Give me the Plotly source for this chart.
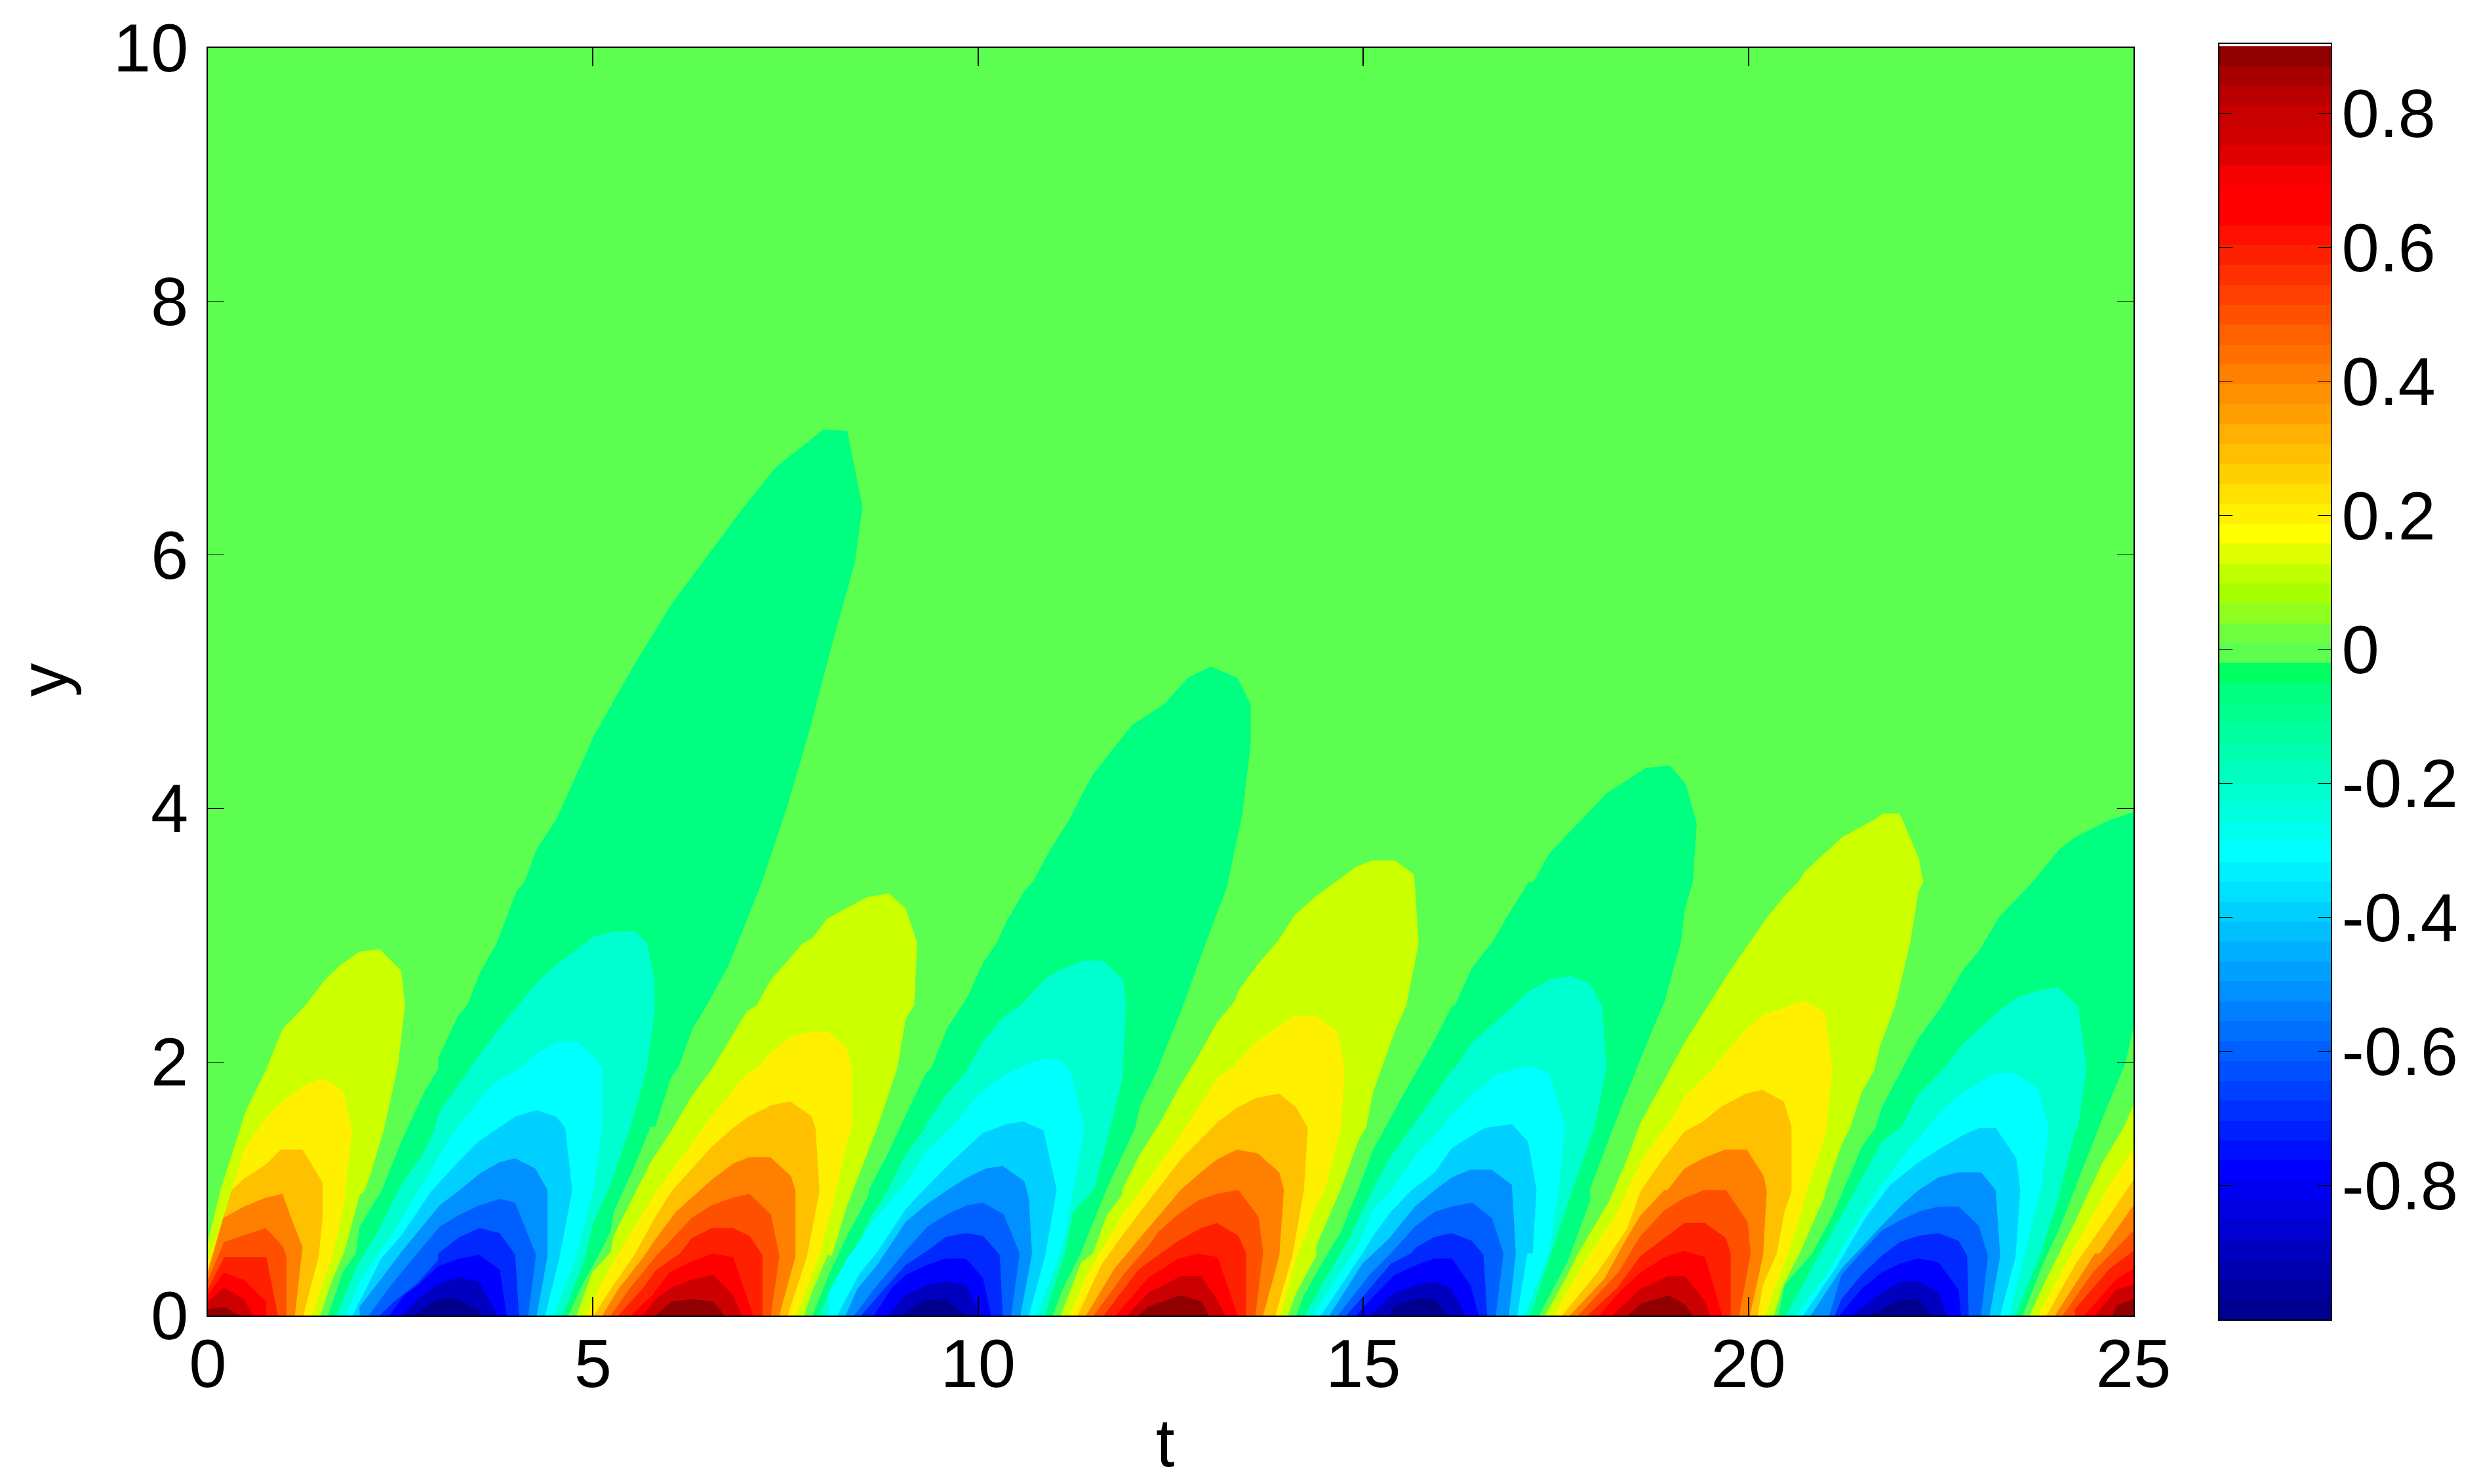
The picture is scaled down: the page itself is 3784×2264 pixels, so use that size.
import plotly.graph_objects as go

# Contour bands: (t, y) outlines of each filled level, one outline per lobe.
BG_COLOR = "#5cff50"
BG = [[(0,0),(0,10),(25,10),(25,0)]]
P_COLORS = ["#ccff00", "#fff000", "#ffc000", "#ff8000", "#ff5000", "#ff2000", "#ff0000", "#cc0000", "#900000"]
N_COLORS = ["#00ff80", "#00ffd0", "#00ffff", "#00d0ff", "#0090ff", "#0060ff", "#0028ff", "#0000ff", "#0000c0", "#00008c"]

P1 = [
 [(0,0),(0,.58),(.16,.98),(.42,1.48),(.49,1.61),(.75,1.93),(.97,2.26),(1.27,2.45),(1.51,2.64),(1.73,2.77),(1.97,2.87),(2.23,2.89),(2.51,2.72),(2.56,2.45),(2.47,1.98),(2.29,1.48),(2.12,1.13),(2.03,.98),(1.97,.95),(1.77,.50),(1.60,.26),(1.46,0)],
 [(4.79,0),(4.99,.34),(5.23,.50),(5.27,.63),(5.51,.92),(5.75,1.21),(6.02,1.46),(6.28,1.73),(6.54,1.94),(7.0,2.40),(7.13,2.45),(7.30,2.64),(7.73,2.94),(7.84,2.97),(8.04,3.13),(8.56,3.30),(8.84,3.33),(9.06,3.21),(9.21,2.94),(9.17,2.45),(9.06,2.34),(8.95,1.95),(8.69,1.48),(8.47,1.13),(8.30,.87),(8.10,.47),(8.05,.48),(7.84,.18),(7.74,0)],
 [(11.07,0),(11.34,.42),(11.49,.49),(11.67,.79),(11.87,.95),(11.87,.99),(12.10,1.27),(12.36,1.52),(12.63,1.82),(12.89,2.08),(13.10,2.31),(13.32,2.47),(13.39,2.57),(13.63,2.77),(13.90,2.96),(14.10,3.15),(14.37,3.30),(14.91,3.54),(15.12,3.59),(15.41,3.59),(15.66,3.48),(15.72,2.94),(15.56,2.45),(15.41,2.24),(15.13,1.77),(15.04,1.49),(14.93,1.37),(14.71,1.0),(14.39,.55),(14.39,.47),(14.13,.18),(14.02,0)],
 [(17.36,0),(17.60,.26),(17.80,.50),(18.19,.90),(18.43,1.24),(18.60,1.52),(18.91,1.86),(19.17,2.15),(19.43,2.40),(19.73,2.69),(19.99,2.92),(20.23,3.13),(20.47,3.31),(20.65,3.42),(20.73,3.50),(21.21,3.77),(21.63,3.91),(21.75,3.96),(21.96,3.96),(22.0,3.91),(22.21,3.61),(22.27,3.42),(22.21,3.35),(22.10,2.94),(21.91,2.45),(21.71,2.13),(21.63,1.93),(21.47,1.76),(21.32,1.48),(21.21,1.35),(21.0,.98),(20.99,.94),(20.65,.47),(20.46,.25),(20.33,0)],
 [(23.65,0),(23.87,.29),(24.24,.74),(24.60,1.21),(24.87,1.48),(25,1.66),(25,0)],
]
P2 = [
 [(0,0),(0,.42),(.21,.78),(.47,1.31),(.75,1.56),(.97,1.69),(1.23,1.81),(1.49,1.87),(1.76,1.77),(1.87,1.46),(1.77,.90),(1.62,.47),(1.35,0)],
 [(4.90,0),(5.07,.21),(5.29,.45),(5.53,.69),(5.82,.98),(6.08,1.19),(6.54,1.57),(7.0,1.91),(7.13,1.95),(7.30,2.07),(7.54,2.19),(7.82,2.24),(8.05,2.24),(8.30,2.11),(8.36,1.95),(8.36,1.48),(8.30,1.37),(8.13,.92),(7.95,.50),(7.64,0)],
 [(11.18,0),(11.43,.34),(11.67,.58),(11.87,.79),(12.17,1.03),(12.65,1.45),(13.10,1.87),(13.32,1.97),(13.60,2.15),(14.10,2.36),(14.39,2.36),(14.66,2.24),(14.76,1.95),(14.71,1.48),(14.50,.98),(14.39,.87),(14.13,.45),(13.92,0)],
 [(17.47,0),(17.82,.37),(18.26,.77),(18.60,1.21),(18.91,1.48),(18.95,1.49),(19.17,1.73),(19.54,1.95),(19.91,2.22),(20.19,2.37),(20.47,2.43),(20.71,2.48),(20.99,2.40),(21.09,1.94),(21.0,1.42),(20.80,1.06),(20.54,.53),(20.34,.21),(20.22,0)],
 [(23.76,0),(24.24,.55),(24.69,1.03),(25,1.32),(25,0)],
]
P3 = [
 [(0,0),(0,.37),(.2,.77),(.31,.99),(.47,1.08),(.75,1.19),(.95,1.31),(1.23,1.31),(1.49,1.05),(1.49,.77),(1.44,.47),(1.24,0)],
 [(5.01,0),(5.23,.21),(5.53,.47),(5.82,.79),(6.02,.98),(6.54,1.33),(6.82,1.48),(7.02,1.57),(7.32,1.66),(7.56,1.69),(7.84,1.57),(7.89,1.48),(7.94,.98),(7.78,.47),(7.53,0)],
 [(11.29,0),(11.60,.40),(11.87,.63),(12.17,.87),(12.63,1.23),(13.10,1.52),(13.36,1.64),(13.63,1.72),(13.91,1.75),(14.13,1.64),(14.28,1.48),(14.23,.99),(14.08,.47),(13.86,0)],
 [(17.58,0),(18.04,.34),(18.43,.69),(18.60,.98),(18.86,1.21),(19.17,1.45),(19.41,1.53),(19.65,1.65),(19.97,1.75),(20.18,1.78),(20.46,1.69),(20.56,1.49),(20.56,.98),(20.47,.82),(20.37,.49),(20.19,.24),(20.12,0)],
 [(23.87,0),(24.24,.40),(24.69,.79),(25,1.07),(25,0)],
]
P4 = [
 [(0,0),(0,.34),(.2,.77),(.47,.86),(.75,.93),(.97,.96),(1.10,.74),(1.23,.54),(1.13,0)],
 [(5.12,0),(5.33,.21),(5.64,.45),(5.82,.61),(6.08,.82),(6.54,1.07),(6.82,1.20),(7.03,1.25),(7.30,1.25),(7.57,1.10),(7.63,.98),(7.63,.47),(7.42,0)],
 [(11.40,0),(11.77,.37),(12.07,.59),(12.63,.99),(12.89,1.13),(13.10,1.23),(13.36,1.31),(13.63,1.28),(13.91,1.13),(13.97,.99),(13.91,.47),(13.70,0)],
 [(17.68,0),(18.13,.29),(18.43,.62),(18.60,.79),(18.91,.99),(18.95,.99),(19.17,1.16),(19.41,1.24),(19.70,1.31),(19.98,1.31),(20.2,1.10),(20.24,.98),(20.19,.47),(20.02,0)],
 [(23.98,0),(24.50,.49),(24.56,.49),(25,.87),(25,0)],
]
P5 = [
 [(0,0),(0,.28),(.21,.58),(.75,.69),(.97,.55),(1.02,.47),(1.02,0)],
 [(5.23,0),(5.47,.21),(5.82,.47),(6.28,.77),(6.54,.87),(6.82,.93),(7.03,.96),(7.31,.80),(7.42,.47),(7.31,0)],
 [(11.50,0),(11.91,.34),(12.21,.55),(12.34,.66),(12.60,.80),(12.86,.91),(13.10,.96),(13.38,.99),(13.64,.78),(13.70,.50),(13.6,0)],
 [(17.79,0),(18.31,.34),(18.60,.63),(18.91,.83),(19.17,.93),(19.43,.99),(19.71,.99),(19.99,.74),(20.03,.49),(19.88,0)],
 [(24.08,0),(24.47,.34),(25,.67),(25,0)],
]
P6 = [
 [(0,0),(0,.21),(.21,.46),(.76,.46),(.91,0)],
 [(5.33,0),(5.64,.21),(5.82,.36),(6.13,.49),(6.28,.61),(6.54,.69),(6.82,.69),(7.03,.63),(7.2,.48),(7.2,0)],
 [(11.63,0),(12.08,.36),(12.21,.42),(12.60,.59),(12.89,.69),(13.10,.73),(13.38,.63),(13.48,.49),(13.48,0)],
 [(17.91,0),(18.30,.22),(18.60,.47),(18.91,.61),(19.17,.73),(19.44,.73),(19.71,.61),(19.77,.49),(19.77,0)],
 [(24.24,0),(24.24,.05),(24.69,.37),(25,.51),(25,0)],
]
P7 = [
 [(0,0),(0,.16),(.21,.34),(.47,.28),(.76,.11),(.76,0)],
 [(5.49,0),(5.77,.16),(5.99,.34),(6.26,.42),(6.56,.49),(6.82,.46),(7.08,0)],
 [(11.78,0),(12.0,.15),(12.21,.30),(12.60,.45),(12.86,.49),(13.11,.46),(13.37,0)],
 [(18.06,0),(18.35,.2),(18.60,.34),(18.91,.46),(19.17,.51),(19.44,.46),(19.66,0)],
 [(24.36,0),(24.78,.29),(25,.37),(25,0)],
]
P8 = [
 [(0,0),(0,.11),(.21,.22),(.47,.13),(.58,0)],
 [(5.64,0),(5.82,.13),(6.02,.22),(6.26,.28),(6.56,.32),(6.82,.16),(6.93,0)],
 [(11.93,0),(12.21,.18),(12.63,.31),(12.90,.31),(13.10,.13),(13.21,0)],
 [(18.23,0),(18.60,.21),(18.95,.31),(19.18,.31),(19.44,.11),(19.50,0)],
 [(24.50,0),(24.78,.21),(25,.24),(25,0)],
]
P9 = [
 [(0,0),(0,.05),(.21,.07),(.42,0)],
 [(5.81,0),(6.02,.11),(6.28,.13),(6.56,.11),(6.71,0)],
 [(12.08,0),(12.21,.07),(12.63,.16),(12.90,.11),(13.0,0)],
 [(18.43,0),(18.60,.09),(18.96,.16),(19.17,.09),(19.28,0)],
 [(24.73,0),(24.78,.08),(25,.13),(25,0)],
]

N1 = [
 [(1.56,0),(1.75,.34),(1.92,.49),(1.97,.70),(2.25,.98),(2.51,1.37),(2.79,1.74),(2.99,1.95),(2.99,2.03),(3.25,2.37),(3.37,2.45),(3.53,2.70),(3.75,2.94),(3.88,3.15),(4.01,3.35),(4.11,3.42),(4.27,3.68),(4.52,3.91),(5.01,4.57),(5.53,5.13),(6.04,5.63),(6.96,6.38),(7.37,6.69),(7.99,6.99),(8.30,6.98),(8.50,6.38),(8.40,5.94),(8.09,5.26),(7.79,4.57),(7.52,4.01),(7.17,3.38),(6.76,2.76),(6.5,2.47),(6.29,2.26),(6.12,1.97),(6.01,1.87),(5.81,1.49),(5.75,1.49),(5.49,1.11),(5.27,.82),(5.23,.66),(5.07,.47),(4.86,.24),(4.68,0)],
 [(7.85,0),(8.06,.32),(8.30,.63),(8.58,.95),(8.58,.99),(8.82,1.27),(9.06,1.58),(9.32,1.91),(9.39,1.95),(9.60,2.27),(9.86,2.51),(10.06,2.78),(10.24,2.94),(10.37,3.11),(10.60,3.35),(10.71,3.42),(10.93,3.67),(11.18,3.91),(11.48,4.26),(12.0,4.66),(12.41,4.82),(12.72,5.03),(13.02,5.12),(13.37,5.03),(13.54,4.82),(13.54,4.51),(13.43,3.95),(13.23,3.38),(12.92,2.88),(12.64,2.41),(12.36,1.99),(12.34,1.95),(12.10,1.65),(12.04,1.48),(11.67,1.0),(11.37,.55),(11.34,.50),(11.10,.21),(10.97,0)],
 [(14.13,0),(14.23,.16),(14.45,.40),(14.71,.66),(14.93,.99),(15.13,1.31),(15.47,1.69),(15.93,2.18),(16.15,2.44),(16.19,2.45),(16.41,2.74),(16.69,2.96),(16.89,3.17),(17.15,3.42),(17.21,3.42),(17.41,3.64),(17.67,3.81),(17.83,3.91),(18.16,4.12),(18.67,4.32),(18.98,4.34),(19.19,4.19),(19.33,3.88),(19.28,3.42),(19.17,3.19),(19.13,2.96),(18.91,2.47),(18.73,2.22),(18.36,1.66),(18.15,1.33),(17.94,.99),(17.95,.91),(17.65,.42),(17.28,0)],
 [(20.39,0),(20.47,.24),(20.73,.42),(20.83,.49),(21.10,.80),(21.47,1.33),(21.65,1.48),(21.73,1.64),(22.21,2.19),(22.51,2.44),(22.78,2.72),(23.01,2.89),(23.25,3.14),(23.69,3.42),(24.04,3.68),(24.23,3.77),(24.69,3.91),(25,3.97),(25,2.27),(24.89,1.98),(24.6,1.56),(24.34,1.16),(24.02,.66),(23.82,.40),(23.56,0)],
]
N2 = [
 [(1.67,0),(1.94,.40),(2.18,.63),(2.51,1.03),(2.79,1.27),(2.94,1.46),(3.0,1.60),(3.25,1.82),(3.53,2.06),(3.79,2.27),(4.03,2.45),(4.29,2.64),(4.53,2.77),(5.01,2.99),(5.27,3.03),(5.54,3.03),(5.70,2.94),(5.80,2.64),(5.80,2.40),(5.70,1.95),(5.49,1.49),(5.20,.99),(5.01,.74),(4.88,.42),(4.60,0)],
 [(7.95,0),(8.08,.21),(8.37,.47),(8.6,.77),(8.84,1.0),(9.06,1.27),(9.32,1.48),(9.33,1.52),(9.60,1.75),(9.86,1.94),(10.06,2.16),(10.32,2.35),(10.56,2.45),(10.86,2.65),(11.08,2.73),(11.36,2.80),(11.62,2.80),(11.88,2.65),(11.92,2.45),(11.87,1.86),(11.65,1.32),(11.50,.99),(11.24,.82),(11.13,.50),(10.87,0)],
 [(14.24,0),(14.51,.29),(14.82,.61),(15.13,1.0),(15.34,1.24),(15.65,1.50),(15.93,1.74),(16.15,1.94),(16.19,1.95),(16.41,2.15),(16.89,2.41),(17.15,2.56),(17.43,2.65),(17.69,2.68),(17.94,2.62),(18.10,2.44),(18.16,1.95),(18.0,1.48),(17.71,.98),(17.43,.47),(17.17,0)],
 [(20.49,0),(20.82,.37),(21.21,.79),(21.5,1.11),(21.73,1.37),(21.99,1.49),(22.21,1.75),(22.54,1.95),(22.78,2.14),(23.23,2.39),(23.49,2.51),(23.76,2.56),(24.02,2.59),(24.28,2.44),(24.39,1.95),(24.28,1.49),(24.24,1.45),(24.02,.92),(23.80,.50),(23.47,0)],
]
N3 = [
 [(1.78,0),(1.99,.29),(2.38,.63),(2.81,1.06),(3.16,1.42),(3.51,1.69),(3.75,1.85),(4.03,1.94),(4.27,2.07),(4.55,2.16),(4.79,2.16),(5.01,2.04),(5.12,1.95),(5.12,1.50),(5.01,1.00),(4.79,.47),(4.49,0)],
 [(8.06,0),(8.06,.18),(8.30,.45),(8.67,.77),(9.06,1.04),(9.34,1.31),(9.60,1.45),(10.02,1.75),(10.32,1.89),(10.58,1.97),(10.86,2.03),(11.08,2.01),(11.19,1.94),(11.38,1.49),(11.25,1.03),(11.10,.55),(10.76,0)],
 [(14.34,0),(14.65,.29),(14.93,.55),(15.13,.84),(15.36,.99),(15.69,1.27),(15.93,1.42),(16.15,1.58),(16.41,1.74),(16.73,1.90),(16.95,1.94),(17.16,1.97),(17.42,1.91),(17.62,1.49),(17.54,.99),(17.41,.50),(17.10,0)],
 [(20.61,0),(21.04,.34),(21.21,.53),(21.47,.79),(21.73,1.03),(21.99,1.24),(22.21,1.40),(22.54,1.64),(22.76,1.75),(23.21,1.91),(23.47,1.91),(23.76,1.79),(23.90,1.48),(23.80,1.0),(23.58,.47),(23.39,0)],
]
N4 = [
 [(1.88,0),(2.25,.45),(2.51,.63),(2.90,.98),(2.99,1.04),(3.25,1.21),(3.51,1.37),(3.77,1.48),(3.99,1.57),(4.27,1.62),(4.52,1.57),(4.64,1.48),(4.73,.99),(4.57,.47),(4.38,0)],
 [(8.17,0),(8.45,.32),(8.69,.50),(9.06,.84),(9.34,1.02),(9.65,1.21),(10.06,1.44),(10.37,1.51),(10.59,1.53),(10.85,1.46),(11.02,.99),(10.87,.47),(10.66,0)],
 [(14.45,0),(14.82,.34),(14.99,.49),(15.13,.63),(15.36,.82),(15.63,.99),(15.93,1.13),(16.15,1.32),(16.41,1.42),(16.58,1.48),(16.93,1.51),(17.14,1.37),(17.25,.99),(17.20,.49),(17.13,.49),(17.0,0)],
 [(20.71,0),(21.13,.37),(21.52,.77),(21.84,1.03),(22.21,1.21),(22.47,1.31),(22.78,1.42),(23.0,1.48),(23.21,1.48),(23.48,1.24),(23.53,.99),(23.47,.47),(23.27,0)],
]
N5 = [
 [(1.97,0),(1.97,.07),(2.25,.29),(2.51,.50),(3.01,.87),(3.27,.99),(3.53,1.12),(3.79,1.21),(3.99,1.24),(4.25,1.16),(4.41,.99),(4.41,.47),(4.27,0)],
 [(8.28,0),(8.43,.21),(8.69,.40),(9.06,.74),(9.34,.88),(9.60,.99),(9.86,1.09),(10.10,1.16),(10.32,1.18),(10.60,1.06),(10.66,.92),(10.70,.49),(10.55,0)],
 [(14.56,0),(14.99,.41),(15.13,.49),(15.34,.61),(15.67,.86),(15.93,.99),(16.15,1.09),(16.39,1.15),(16.67,1.15),(16.93,1.03),(16.98,.49),(16.89,0)],
 [(20.81,0),(21.21,.37),(21.73,.71),(21.99,.87),(22.21,.99),(22.47,1.09),(22.72,1.13),(23.02,1.13),(23.21,.99),(23.27,.47),(23.13,0)],
]
N6 = [
 [(2.09,0),(2.38,.24),(2.73,.50),(3.01,.70),(3.25,.79),(3.53,.87),(3.79,.92),(3.99,.89),(4.12,.69),(4.26,.48),(4.16,0)],
 [(8.39,0),(8.65,.21),(9.06,.51),(9.34,.70),(9.60,.80),(9.86,.87),(10.06,.89),(10.33,.80),(10.54,.49),(10.43,0)],
 [(14.67,0),(15.08,.32),(15.34,.48),(15.67,.70),(15.93,.82),(16.15,.86),(16.41,.89),(16.67,.77),(16.82,.49),(16.72,0)],
 [(21.05,0),(21.21,.32),(21.47,.50),(21.73,.67),(21.97,.75),(22.21,.82),(22.47,.86),(22.73,.86),(22.99,.71),(23.11,.47),(23.02,0)],
]
N7 = [
 [(2.23,0),(2.42,.11),(2.73,.26),(2.99,.44),(2.99,.49),(3.27,.62),(3.53,.69),(3.79,.65),(3.99,.48),(4.04,0)],
 [(8.48,0),(8.78,.21),(9.06,.40),(9.34,.51),(9.58,.62),(9.84,.65),(10.06,.63),(10.28,.48),(10.32,0)],
 [(14.78,0),(15.01,.16),(15.36,.41),(15.62,.49),(15.69,.54),(15.93,.62),(16.15,.65),(16.41,.59),(16.56,.48),(16.61,0)],
 [(21.12,0),(21.21,.13),(21.47,.32),(21.73,.47),(21.97,.58),(22.21,.63),(22.47,.65),(22.73,.59),(22.84,.47),(22.86,0)],
]
N8 = [
 [(2.36,0),(2.55,.16),(2.73,.24),(2.99,.39),(3.27,.45),(3.52,.48),(3.79,.36),(3.88,0)],
 [(8.65,0),(8.87,.21),(9.06,.32),(9.34,.40),(9.58,.45),(9.84,.45),(10.06,.30),(10.17,0)],
 [(14.91,0),(15.10,.13),(15.41,.32),(15.69,.40),(15.93,.45),(16.15,.45),(16.39,.24),(16.5,0)],
 [(21.18,0),(21.47,.21),(21.73,.34),(21.97,.41),(22.21,.45),(22.47,.42),(22.73,.20),(22.76,0)],
]
N9 = [
 [(2.51,0),(2.73,.13),(2.99,.25),(3.25,.30),(3.52,.27),(3.76,0)],
 [(8.83,0),(9.06,.16),(9.34,.24),(9.58,.27),(9.85,.24),(10.02,0)],
 [(15.08,0),(15.41,.18),(15.69,.24),(15.93,.27),(16.15,.21),(16.33,0)],
 [(21.34,0),(21.73,.18),(21.99,.27),(22.21,.27),(22.47,.18),(22.58,0)],
]
N10 = [
 [(2.68,0),(2.99,.13),(3.25,.13),(3.54,.03),(3.54,0)],
 [(9.02,0),(9.30,.12),(9.58,.13),(9.84,0)],
 [(15.34,0),(15.41,.08),(15.69,.13),(15.93,.13),(16.1,0)],
 [(21.57,0),(21.73,.05),(21.95,.12),(22.21,.13),(22.37,0)],
]

BAR_COLORS = [
 "#000090","#0000a0","#0000b0","#0000c0","#0000d0","#0000e0","#0000f0","#0000ff",
 "#0010ff","#0020ff","#0030ff","#0040ff","#0050ff","#0060ff","#0070ff","#0080ff",
 "#0090ff","#00a0ff","#00b0ff","#00c0ff","#00d0ff","#00e0ff","#00f0ff","#00ffff",
 "#00ffef","#00ffdf","#00ffcf","#00ffbf","#00ffaf","#00ff9f","#00ff8f","#00ff7f","#00ff60",
 "#5cff50","#70ff40","#90ff20","#a8ff00","#c0ff00","#e0ff00","#ffff00",
 "#fff000","#ffe000","#ffd000","#ffc000","#ffb000","#ffa000","#ff9000","#ff8000",
 "#ff7000","#ff6000","#ff5000","#ff4000","#ff3000","#ff2000","#ff1000","#ff0000","#ff0000",
 "#f50000","#e00000","#d00000","#c80000","#b80000","#a80000","#900000",
]
BAR_BOTTOM, BAR_STEP = -1.0, 0.0297
X_TICKS = [0, 5, 10, 15, 20, 25]
Y_TICKS = [0, 2, 4, 6, 8, 10]
BAR_TICKS = [-0.8, -0.6, -0.4, -0.2, 0, 0.2, 0.4, 0.6, 0.8]
BAR_LABELS = ["-0.8", "-0.6", "-0.4", "-0.2", "0", "0.2", "0.4", "0.6", "0.8"]
X_TITLE, Y_TITLE = "t", "y"

PAGE_INSET = 8  # the page's own body margin
W, H = 3784 - PAGE_INSET, 2264 - PAGE_INSET
ML, MR, MT, MB = 317 - PAGE_INSET, W - (3555 - PAGE_INSET), 67 - PAGE_INSET, H - (2013 - PAGE_INSET)
IW, IH = 3555 - 317, 2013 - 67
FONT = dict(family="Liberation Sans", size=103, color="black")

fig = go.Figure()

def add_level(lobes, color, name):
    ts, ys = [], []
    for lobe in lobes:
        ts += [p[0] for p in lobe] + [None]
        ys += [p[1] for p in lobe] + [None]
    fig.add_trace(go.Scatter(x=ts, y=ys, mode="lines", line=dict(width=0), fill="toself",
                             fillcolor=color, name=name, hoverinfo="skip", showlegend=False))

add_level(BG, BG_COLOR, "0")
for lobes, c, n in zip([P1, P2, P3, P4, P5, P6, P7, P8, P9], P_COLORS, range(1, 10)):
    add_level(lobes, c, f"+{n}")
for lobes, c, n in zip([N1, N2, N3, N4, N5, N6, N7, N8, N9, N10], N_COLORS, range(1, 11)):
    add_level(lobes, c, f"-{n}")

stepped = []
for i, c in enumerate(BAR_COLORS):
    stepped += [[i / len(BAR_COLORS), c], [(i + 1) / len(BAR_COLORS), c]]
fig.add_trace(go.Heatmap(z=[[i] for i in range(len(BAR_COLORS))], x=[0.5],
                         y0=BAR_BOTTOM + BAR_STEP / 2, dy=BAR_STEP,
                         zmin=-0.5, zmax=len(BAR_COLORS) - 0.5, colorscale=stepped,
                         showscale=False, xaxis="x2", yaxis="y2", hoverinfo="skip"))

axis_style = dict(showgrid=False, zeroline=False, showline=True, linecolor="black", linewidth=2,
                  mirror="ticks", ticks="inside", tickcolor="black", tickfont=FONT, automargin=False)
fig.update_layout(
    width=W, height=H, autosize=False, margin=dict(l=ML, r=MR, t=MT, b=MB, pad=0),
    paper_bgcolor="white", plot_bgcolor="white", showlegend=False,
    xaxis=dict(domain=[0, (3254 - 317) / IW], range=[0, 25], tickvals=X_TICKS, anchor="y",
               ticklen=28, tickwidth=2, ticklabelstandoff=-17, **axis_style),
    yaxis=dict(domain=[(2013 - 2007) / IH, (2013 - 73) / IH], range=[0, 10], tickvals=Y_TICKS, anchor="x",
               ticklen=25, tickwidth=1, ticklabelstandoff=7, **axis_style),
    xaxis2=dict(domain=[(3385 - 317) / IW, 1], range=[0, 1], anchor="y2", showticklabels=False,
                showgrid=False, zeroline=False, showline=True, linecolor="black", linewidth=2,
                mirror=True, ticks="", automargin=False),
    yaxis2=dict(domain=[0, 1], range=[-1.0, 0.904], anchor="x2", side="right",
                tickvals=BAR_TICKS, ticktext=BAR_LABELS, ticklabelstandoff=-6,
                ticklen=20, tickwidth=1, **axis_style),
    annotations=[
        dict(text=X_TITLE, xref="paper", yref="paper", x=(1777 - 317) / IW, y=(2013 - 2201) / IH,
             xanchor="center", yanchor="middle", showarrow=False, font=FONT),
        dict(text=Y_TITLE, xref="paper", yref="paper", x=(66 - 317) / IW, y=(2013 - 1037) / IH,
             xanchor="center", yanchor="middle", showarrow=False, font=FONT, textangle=-90),
    ],
)
fig.write_html("out.html")
